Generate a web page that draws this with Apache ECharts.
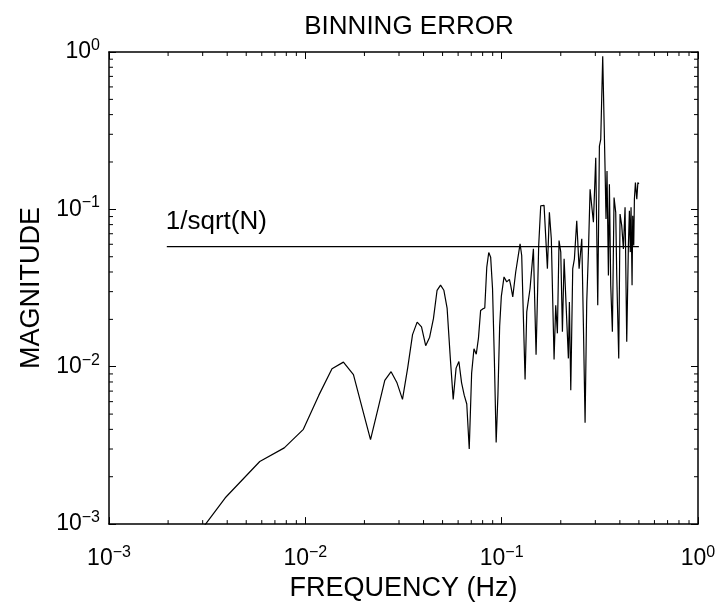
<!DOCTYPE html>
<html>
<head>
<meta charset="utf-8">
<script src="https://cdn.jsdelivr.net/npm/echarts@6/dist/echarts.min.js"></script>
<style>
  html, body { margin: 0; padding: 0; background: #fff; }
  #chart { width: 724px; height: 607px; }
</style>
</head>
<body>
<div id="chart"></div>
<script>
// frequency (Hz) and magnitude
const freq = [
  0.00195, 0.00391, 0.00586, 0.00781, 0.00977, 0.01172, 0.01367, 0.01563, 0.01758, 0.01953,
  0.02148, 0.02344, 0.02539, 0.02734, 0.0293, 0.03125, 0.0332, 0.03516, 0.03711, 0.03906,
  0.04102, 0.04297, 0.04492, 0.04688, 0.04883, 0.05078, 0.05273, 0.05469, 0.05664, 0.05859,
  0.06055, 0.0625, 0.06445, 0.06641, 0.06836, 0.07031, 0.07227, 0.07422, 0.07617, 0.07813,
  0.08008, 0.08203, 0.08398, 0.08594, 0.08789, 0.08984, 0.0918, 0.09375, 0.0957, 0.09766,
  0.0996, 0.1028, 0.1061, 0.1095, 0.1112, 0.1139, 0.1179, 0.1241, 0.1265, 0.1316,
  0.1342, 0.1395, 0.1451, 0.1497, 0.1544, 0.1581, 0.1644, 0.171, 0.175, 0.179,
  0.1849, 0.1885, 0.1922, 0.196, 0.2, 0.2039, 0.208, 0.2128, 0.2187, 0.2213,
  0.2249, 0.2301, 0.2347, 0.2412, 0.248, 0.2559, 0.2608, 0.266, 0.2712, 0.2766,
  0.2821, 0.2876, 0.2933, 0.3014, 0.3086, 0.3146, 0.3196, 0.3271, 0.3364, 0.34,
  0.344, 0.3497, 0.3538, 0.3593, 0.3664, 0.3736, 0.381, 0.3856, 0.3947, 0.4009,
  0.4088, 0.4169, 0.4251, 0.4335, 0.442, 0.4473, 0.452, 0.456, 0.4615, 0.4651,
  0.4706, 0.4743, 0.48, 0.4878, 0.494, 0.5
];
const magnitude = [
  0.00046, 0.00147, 0.0025, 0.00305, 0.004, 0.0066, 0.0097, 0.0107, 0.0089, 0.0054,
  0.00344, 0.0054, 0.0082, 0.0093, 0.0079, 0.0062, 0.0098, 0.016, 0.0192, 0.0179,
  0.0136, 0.0154, 0.0202, 0.0306, 0.033, 0.0306, 0.0236, 0.0116, 0.0062, 0.0098,
  0.0108, 0.0079, 0.0066, 0.0058, 0.003, 0.0091, 0.013, 0.012, 0.0152, 0.0228,
  0.0233, 0.0236, 0.043, 0.0532, 0.0497, 0.0314, 0.0111, 0.0033, 0.0066, 0.018,
  0.028, 0.0372, 0.0346, 0.0359, 0.0329, 0.0278, 0.04, 0.0604, 0.0509, 0.0083,
  0.0223, 0.0314, 0.0561, 0.0119, 0.0589, 0.1054, 0.106, 0.042, 0.0957, 0.065,
  0.0111, 0.0246, 0.0163, 0.0633, 0.0535, 0.0167, 0.0485, 0.0497, 0.0113, 0.0258,
  0.0071, 0.042, 0.0485, 0.0847, 0.042, 0.065, 0.0184, 0.0044, 0.0258, 0.0535,
  0.134, 0.105, 0.0828, 0.213, 0.0246, 0.252, 0.278, 0.94, 0.175, 0.087,
  0.175, 0.038, 0.1445, 0.0329, 0.0167, 0.119, 0.0957, 0.038, 0.0113, 0.0934,
  0.0788, 0.0561, 0.103, 0.0144, 0.0589, 0.098, 0.0535, 0.103, 0.0329, 0.091,
  0.0589, 0.116, 0.148, 0.116, 0.148, 0.145
];
// 1/sqrt(N) reference level
const refFreq = [0.00197, 0.5];
const refLevel = 0.058;
const refLabel = '1/sqrt(N)';

const FONT = 'Liberation Sans, Arial, Helvetica, sans-serif';

// minor ticks at 2..9 of every decade
const minorTicks = [];
for (let d = -3; d < 0; d++) {
  for (let j = 2; j <= 9; j++) {
    minorTicks.push(j * Math.pow(10, d));
  }
}

function powLabel(v) {
  const e = Math.round(Math.log10(v));
  const s = e < 0 ? '\u2212' + (-e) : String(e);
  return '{b|10}{s|' + s + '}';
}

const labelRich = {
  b: { fontSize: 23, fontFamily: FONT, color: '#000' },
  s: { fontSize: 16, fontFamily: FONT, color: '#000', padding: [0, 0, 13, 0] },
};

function logAxis(extra) {
  return Object.assign({
    type: 'log',
    logBase: 10,
    min: 0.001,
    max: 1,
    axisLine: { show: true, lineStyle: { color: '#000', width: 1.5 } },
    axisTick: { show: true, inside: true, length: 7, lineStyle: { color: '#000', width: 1 } },
    splitLine: { show: false },
    minorTick: { show: false },
  }, extra);
}

function setOption(chart) {
  const option = {
    animation: false,
    backgroundColor: '#fff',
    title: {
      text: 'BINNING ERROR',
      left: 404,
      top: 9,
      textAlign: 'center',
      textStyle: { fontSize: 26, fontWeight: 'normal', fontFamily: FONT, color: '#000' },
    },
    grid: { left: 109, right: 26, top: 52, bottom: 80 },
    xAxis: [
      logAxis({
        position: 'bottom',
        name: 'FREQUENCY (Hz)',
        nameLocation: 'middle',
        nameGap: 46,
        nameTextStyle: { fontSize: 27, fontFamily: FONT, color: '#000' },
        axisLabel: { margin: 20, formatter: powLabel, rich: labelRich },
      }),
      logAxis({ position: 'top', axisLabel: { show: false } }),
    ],
    yAxis: [
      logAxis({
        position: 'left',
        name: 'MAGNITUDE',
        nameLocation: 'middle',
        nameGap: 61,
        nameTextStyle: { fontSize: 27, fontFamily: FONT, color: '#000' },
        axisLabel: { margin: 9, formatter: powLabel, rich: labelRich },
      }),
      logAxis({ position: 'right', axisLabel: { show: false } }),
    ],
    series: [
      {
        type: 'line',
        data: freq.map((f, i) => [f, magnitude[i]]),
        showSymbol: false,
        symbol: 'none',
        lineStyle: { color: '#000', width: 1.2 },
        silent: true,
      },
      {
        type: 'line',
        data: refFreq.map((f) => [f, refLevel]),
        showSymbol: false,
        symbol: 'none',
        lineStyle: { color: '#000', width: 1.2 },
        silent: true,
        markPoint: {
          symbol: 'circle',
          symbolSize: 0,
          silent: true,
          data: [{
            coord: [refFreq[0], refLevel],
            label: {
              show: true,
              position: 'right',
              distance: 0,
              offset: [-1, -25],
              formatter: refLabel,
              fontSize: 26,
              fontFamily: FONT,
              color: '#000',
            },
          }],
        },
      },
      {
        type: 'custom',
        silent: true,
        clip: false,
        data: minorTicks.map((v) => [v, v]),
        renderItem(params, api) {
          const v = api.value(0);
          const b = api.coord([v, 0.001]);
          const t = api.coord([v, 1]);
          const l = api.coord([0.001, v]);
          const r = api.coord([1, v]);
          const len = 4;
          const st = { stroke: '#000', lineWidth: 1 };
          return {
            type: 'group',
            children: [
              { type: 'line', shape: { x1: b[0], y1: b[1], x2: b[0], y2: b[1] - len }, style: st },
              { type: 'line', shape: { x1: t[0], y1: t[1], x2: t[0], y2: t[1] + len }, style: st },
              { type: 'line', shape: { x1: l[0], y1: l[1], x2: l[0] + len, y2: l[1] }, style: st },
              { type: 'line', shape: { x1: r[0], y1: r[1], x2: r[0] - len, y2: r[1] }, style: st },
            ],
          };
        },
      },
    ],
  };
  chart.setOption(option);
}

const chart = echarts.init(document.getElementById('chart'), null, { renderer: 'canvas' });
setOption(chart);
</script>
</body>
</html>
